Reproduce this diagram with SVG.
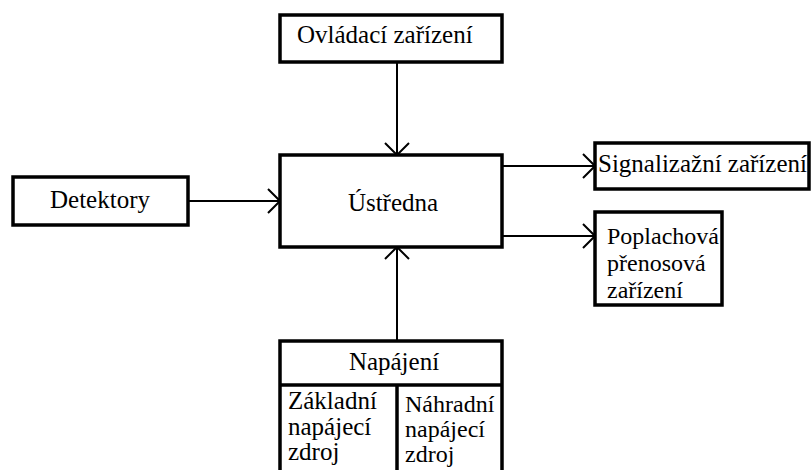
<svg xmlns="http://www.w3.org/2000/svg" width="811" height="470" viewBox="0 0 811 470">
<defs>
<style>
.box{fill:#fff;stroke:#000;stroke-width:3.5}
.t{font-family:"Liberation Serif","Times New Roman",serif;font-size:25px;fill:#000}
.s{font-size:24px}
.c{fill:none;stroke:#000;stroke-width:2}
</style>
<marker id="arr" viewBox="0 0 14 26" refX="13" refY="13" markerWidth="14" markerHeight="26" markerUnits="userSpaceOnUse" orient="auto">
<path d="M1,1 L13,13 L1,25" fill="none" stroke="#000" stroke-width="2"/>
</marker>
</defs>
<rect width="811" height="470" fill="#fff"/>
<g id="connectors">
<line class="c" x1="397" y1="62" x2="397" y2="155" marker-end="url(#arr)"/>
<line class="c" x1="188" y1="201" x2="280" y2="201" marker-end="url(#arr)"/>
<line class="c" x1="502" y1="166" x2="595" y2="166" marker-end="url(#arr)"/>
<line class="c" x1="502" y1="236" x2="595" y2="236" marker-end="url(#arr)"/>
<line class="c" x1="397" y1="341" x2="397" y2="247" marker-end="url(#arr)"/>
</g>
<g id="ovladaci">
<rect class="box" x="280" y="15" width="222" height="47"/>
<text class="t" x="297" y="43">Ovládací zařízení</text>
</g>
<g id="detektory">
<rect class="box" x="13" y="177" width="175" height="48"/>
<text class="t" x="100" y="208" text-anchor="middle">Detektory</text>
</g>
<g id="ustredna">
<rect class="box" x="280" y="155" width="222" height="92"/>
<text class="t" x="393" y="211" text-anchor="middle">Ústředna</text>
</g>
<g id="signalizacni">
<rect class="box" x="595" y="143" width="214" height="46"/>
<text class="t" x="598" y="172">Signalizažní zařízení</text>
</g>
<g id="poplachova">
<rect class="box" x="595" y="212" width="127" height="93"/>
<text class="t s" x="607" y="244">Poplachová</text>
<text class="t s" x="607" y="271">přenosová</text>
<text class="t s" x="607" y="298">zařízení</text>
</g>
<g id="napajeni">
<rect class="box" x="280" y="341" width="222" height="140"/>
<line x1="280" y1="385" x2="502" y2="385" stroke="#000" stroke-width="3.5"/>
<line x1="397" y1="385" x2="397" y2="481" stroke="#000" stroke-width="3.5"/>
<text class="t" x="394" y="370" text-anchor="middle">Napájení</text>
<text class="t" x="288" y="409">Základní</text>
<text class="t" x="288" y="435">napájecí</text>
<text class="t" x="288" y="460">zdroj</text>
<text class="t s" x="405" y="412">Náhradní</text>
<text class="t s" x="405" y="437">napájecí</text>
<text class="t s" x="405" y="462">zdroj</text>
</g>
</svg>
